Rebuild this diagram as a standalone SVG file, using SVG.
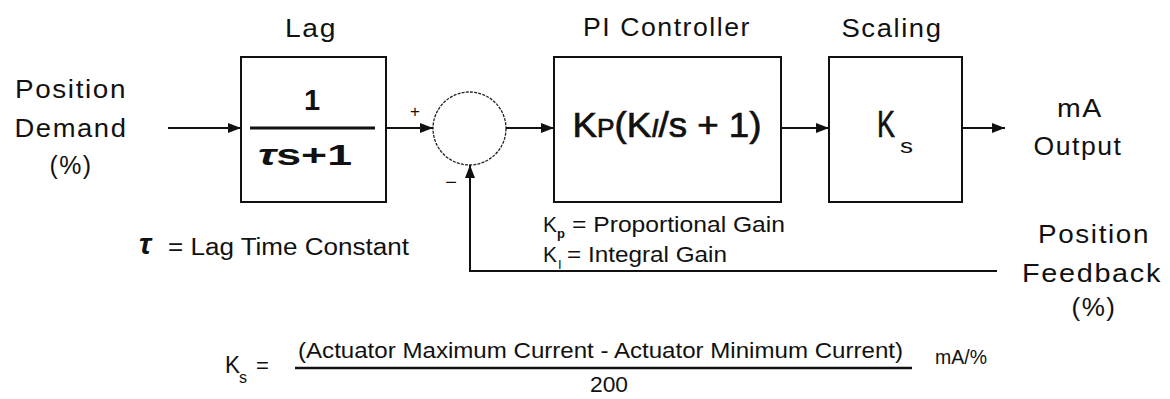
<svg xmlns="http://www.w3.org/2000/svg" width="1170" height="399" viewBox="0 0 1170 399">
<style>
text{font-family:"Liberation Sans",Arial,sans-serif;fill:#111}
.t{font-size:26px;letter-spacing:1.5px}
.box{fill:#fff;stroke:#111;stroke-width:2}
.ln{fill:none;stroke:#111;stroke-width:2}
</style>
<defs>
<marker id="ah" markerUnits="userSpaceOnUse" markerWidth="14" markerHeight="10" refX="13" refY="5" orient="auto">
<path d="M0,0 L13,5 L0,10 z" fill="#111"/>
</marker>
</defs>
<rect width="1170" height="399" fill="#fff"/>
<g id="input-label">
<text class="t" x="71" y="98" text-anchor="middle" textLength="112" lengthAdjust="spacingAndGlyphs">Position</text>
<text class="t" x="71" y="137" text-anchor="middle" textLength="113" lengthAdjust="spacingAndGlyphs">Demand</text>
<text class="t" x="71" y="174" text-anchor="middle" textLength="43" lengthAdjust="spacingAndGlyphs">(%)</text>
</g>
<g id="lag">
<text class="t" x="311" y="37" text-anchor="middle" textLength="52" lengthAdjust="spacingAndGlyphs">Lag</text>
<rect class="box" x="241" y="57" width="145" height="145"/>
<text x="312" y="110" text-anchor="middle" font-size="29" font-weight="bold">1</text>
<line x1="250" y1="128" x2="375" y2="128" stroke="#111" stroke-width="3"/>
<text x="305" y="165" text-anchor="middle" font-size="30" font-weight="bold" textLength="94" lengthAdjust="spacingAndGlyphs"><tspan font-style="italic">τ</tspan>s+1</text>
</g>
<g id="sum">
<circle cx="469.5" cy="128.5" r="36.5" fill="none" stroke="#222" stroke-width="1.3" stroke-dasharray="3 1.2"/>
<text x="415" y="117" text-anchor="middle" font-size="17">+</text>
<text x="451" y="189" text-anchor="middle" font-size="20">−</text>
</g>
<g id="pi">
<text class="t" x="667" y="36" text-anchor="middle" textLength="168" lengthAdjust="spacingAndGlyphs">PI Controller</text>
<rect class="box" x="554" y="57" width="227" height="145"/>
<text x="667" y="137" text-anchor="middle" font-size="35" textLength="189" lengthAdjust="spacingAndGlyphs" stroke="#111" stroke-width="0.7">K<tspan font-size="25">P</tspan>(K<tspan font-size="25" font-style="italic">I</tspan>/s + 1)</text>
</g>
<g id="scaling">
<text class="t" x="892" y="37" text-anchor="middle" textLength="101" lengthAdjust="spacingAndGlyphs">Scaling</text>
<rect class="box" x="829" y="57" width="133" height="145"/>
<text x="877" y="137" font-size="37" textLength="18" lengthAdjust="spacingAndGlyphs" stroke="#111" stroke-width="0.6">K</text>
<text x="900" y="153" font-size="20" textLength="13" lengthAdjust="spacingAndGlyphs">s</text>
</g>
<g id="output-label">
<text class="t" x="1080" y="117" text-anchor="middle" textLength="46" lengthAdjust="spacingAndGlyphs">mA</text>
<text class="t" x="1078" y="155" text-anchor="middle" textLength="89" lengthAdjust="spacingAndGlyphs">Output</text>
</g>
<g id="feedback-label">
<text class="t" x="1094" y="243" text-anchor="middle" textLength="112" lengthAdjust="spacingAndGlyphs">Position</text>
<text class="t" x="1092" y="282" text-anchor="middle" textLength="140" lengthAdjust="spacingAndGlyphs">Feedback</text>
<text class="t" x="1094" y="316" text-anchor="middle" textLength="45" lengthAdjust="spacingAndGlyphs">(%)</text>
</g>
<g id="tau-note">
<text x="139" y="254" font-size="30" font-weight="bold" font-style="italic">τ</text>
<text x="168" y="255" font-size="23" textLength="241" lengthAdjust="spacingAndGlyphs">= Lag Time Constant</text>
</g>
<g id="gain-notes">
<text x="543" y="232" font-size="22" textLength="14" lengthAdjust="spacingAndGlyphs">K</text>
<text x="557" y="238" font-size="13" font-weight="bold">p</text>
<text x="572" y="232" font-size="22" textLength="213" lengthAdjust="spacingAndGlyphs">= Proportional Gain</text>
<text x="543" y="262" font-size="22" textLength="14" lengthAdjust="spacingAndGlyphs">K</text>
<text x="558" y="269" font-size="13">I</text>
<text x="567" y="262" font-size="22" textLength="160" lengthAdjust="spacingAndGlyphs">= Integral Gain</text>
</g>
<g id="ks-formula">
<text x="225" y="373" font-size="23" textLength="15" lengthAdjust="spacingAndGlyphs">K</text>
<text x="239" y="383" font-size="16">s</text>
<text x="256" y="373" font-size="22">=</text>
<text x="298" y="358" font-size="22" textLength="605" lengthAdjust="spacingAndGlyphs">(Actuator Maximum Current - Actuator Minimum Current)</text>
<line x1="295" y1="368" x2="912" y2="368" stroke="#111" stroke-width="2.5"/>
<text x="609" y="392" font-size="22" text-anchor="middle" textLength="38" lengthAdjust="spacingAndGlyphs">200</text>
<text x="935" y="364" font-size="20" textLength="52" lengthAdjust="spacingAndGlyphs">mA/%</text>
</g>
<g id="connectors">
<line class="ln" x1="168" y1="128" x2="241" y2="128" marker-end="url(#ah)"/>
<line class="ln" x1="386" y1="128" x2="433" y2="128" marker-end="url(#ah)"/>
<line class="ln" x1="506" y1="128" x2="554" y2="128" marker-end="url(#ah)"/>
<line class="ln" x1="781" y1="128" x2="829" y2="128" marker-end="url(#ah)"/>
<line class="ln" x1="962" y1="128" x2="1005" y2="128" marker-end="url(#ah)"/>
<polyline class="ln" points="997,271 470,271 470,165" marker-end="url(#ah)"/>
</g>
</svg>
